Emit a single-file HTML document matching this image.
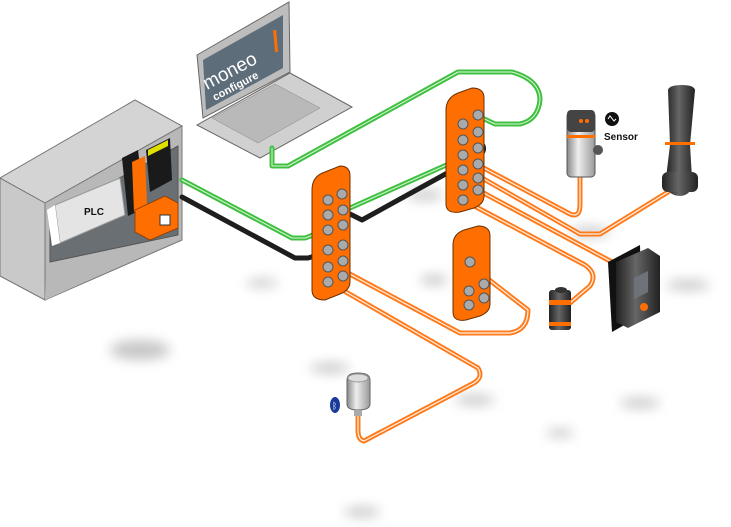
<!DOCTYPE html>
<html><head><meta charset="utf-8"><style>
html,body{margin:0;padding:0;background:#fff;width:731px;height:527px;overflow:hidden}
svg{display:block}
</style></head><body>
<svg width="731" height="527" viewBox="0 0 731 527" xmlns="http://www.w3.org/2000/svg">
<defs>
<filter id="b" x="-50%" y="-50%" width="200%" height="200%"><feGaussianBlur stdDeviation="6"/></filter>
<linearGradient id="cyl" x1="0" x2="1"><stop offset="0" stop-color="#888"/><stop offset=".4" stop-color="#eee"/><stop offset="1" stop-color="#999"/></linearGradient>
<linearGradient id="dk" x1="0" x2="1"><stop offset="0" stop-color="#222"/><stop offset=".45" stop-color="#666"/><stop offset="1" stop-color="#222"/></linearGradient>
</defs>
<g fill="#999" filter="url(#b)" opacity=".55">
<ellipse cx="140" cy="350" rx="30" ry="10"/>
<ellipse cx="262" cy="283" rx="16" ry="4"/>
<ellipse cx="330" cy="368" rx="20" ry="5"/>
<ellipse cx="475" cy="400" rx="20" ry="5"/>
<ellipse cx="590" cy="232" rx="20" ry="5"/>
<ellipse cx="688" cy="285" rx="22" ry="5"/>
<ellipse cx="640" cy="403" rx="20" ry="5"/>
<ellipse cx="560" cy="433" rx="14" ry="4"/>
<ellipse cx="362" cy="512" rx="18" ry="5"/>
<ellipse cx="425" cy="195" rx="18" ry="5"/>
<ellipse cx="434" cy="280" rx="14" ry="5"/>
</g>
<!-- PLC cabinet -->
<polygon points="0,178 135,100 182,126 45,203" fill="#d4d4d4" stroke="#777" stroke-width="1"/>
<polygon points="0,178 45,203 45,300 0,276" fill="#c9c9c9" stroke="#777"/>
<polygon points="45,203 182,126 182,240 45,300" fill="#b8b8b8" stroke="#777"/>
<polygon points="50,216 178,146 178,235 50,262" fill="#6a6f74" stroke="#555"/>
<polygon points="46,264 178,236 178,240 45,300" fill="#b8b8b8"/>
<polygon points="55,205 120,178 125,215 60,243" fill="#e4e4e4" stroke="#999"/>
<polygon points="47,210 55,205 60,243 52,246" fill="#fff"/>
<text x="84" y="215" font-family="Liberation Sans,sans-serif" font-weight="bold" font-size="10" fill="#111">PLC</text>
<polygon points="122,158 138,150 145,208 128,216" fill="#1a1a1a"/>
<polygon points="132,162 145,156 147,205 134,212" fill="#ff6e00"/>
<polygon points="146,150 170,138 172,180 150,192" fill="#1a1a1a"/>
<polygon points="148,150 168,140 168,146 148,156" fill="#dfe000"/>
<polygon points="135,210 165,196 178,203 178,228 150,240 135,232" fill="#ff6e00" stroke="#8a3a00" stroke-width=".8"/>
<rect x="160" y="215" width="10" height="10" fill="#fff" stroke="#333"/>
<!-- Laptop -->
<polygon points="197,125 260,158 352,107 290,73" fill="#d0d0d0" stroke="#666"/>
<polygon points="212,118 258,143 320,108 275,84" fill="#b9b9b9" stroke="#888" stroke-width=".5"/>
<polygon points="197,55 289,2 290,72 203,118" fill="#bdbdbd" stroke="#666"/>
<polygon points="203,60 283,15 283,68 206,110" fill="#5e6d7a"/>
<text transform="translate(207,90) rotate(-28)" font-family="Liberation Sans,sans-serif" font-size="19" fill="#fff">moneo</text>
<rect x="274" y="30" width="3" height="22" fill="#ff6e00" transform="rotate(-5 275 40)"/>
<text transform="translate(215,101) rotate(-28)" font-family="Liberation Sans,sans-serif" font-size="11" font-weight="bold" fill="#fff">configure</text>
<!-- cables -->
<g fill="none" stroke-linecap="round" stroke-linejoin="round">
<g stroke="#40c040" stroke-width="5">
<path d="M272,148 V166 H288 L458,72 H512 Q540,80 540,100 Q538,120 520,124 H495 L478,116"/>
<path d="M465,128 Q485,135 480,150 L350,208 H345 L330,196"/>
<path d="M182,180 L292,238 H305 Q325,232 332,215 L328,205"/>
</g>
<g stroke="#1e1e1e" stroke-width="5">
<path d="M182,197 L295,258 H308 Q330,252 338,237 L336,226"/>
<path d="M346,212 L362,220 L480,155 Q488,148 478,140"/>
</g>
<g stroke="#d9f5d9" stroke-width="1"><path d="M272,148 V166 H288 L458,72 H512 Q540,80 540,100 Q538,120 520,124 H495 L478,116"/><path d="M182,180 L292,238 H305 Q325,232 332,215"/><path d="M465,128 Q485,135 480,150 L350,208"/></g>
<g stroke="#ff7a1a" stroke-width="5">
<path d="M478,165 L570,214 Q580,218 580,205 V172"/>
<path d="M482,178 L580,234 H600 L668,192"/>
<path d="M478,190 L612,262"/>
<path d="M463,200 L585,265 Q598,274 590,286 L570,303"/>
<path d="M346,272 L460,333 H510 Q528,330 528,310 L470,265"/>
<path d="M332,284 L478,368 Q484,378 472,384 L364,441 Q358,440 358,430 V410"/>
</g>
<g stroke="#fff" stroke-width="1.2" opacity=".9">
<path d="M478,165 L570,214 Q580,218 580,205 V172"/>
<path d="M482,178 L580,234 H600 L668,192"/>
<path d="M478,190 L612,262"/>
<path d="M463,200 L585,265 Q598,274 590,286 L570,303"/>
<path d="M346,272 L460,333 H510 Q528,330 528,310 L470,265"/>
<path d="M332,284 L478,368 Q484,378 472,384 L364,441 Q358,440 358,430 V410"/>
</g>
</g>
<!-- hubs -->
<g stroke="#6b3000" stroke-width="1">
<path d="M312,190 Q312,176 325,172 L340,166 Q350,166 350,176 V282 Q350,290 340,294 L325,300 Q312,300 312,290 Z" fill="#ff6e00"/>
<path d="M446,110 Q446,98 458,93 L472,88 Q484,88 484,98 V196 Q484,204 474,208 L460,212 Q446,214 446,204 Z" fill="#ff6e00"/>
<path d="M453,245 Q453,234 464,230 L478,226 Q490,226 490,236 V304 Q490,312 480,316 L466,320 Q453,322 453,312 Z" fill="#ff6e00"/>
</g>
<g fill="#aaa" stroke="#555" stroke-width="1">
<circle cx="328" cy="200" r="5"/><circle cx="342" cy="194" r="5"/>
<circle cx="328" cy="215" r="5"/><circle cx="343" cy="210" r="5"/>
<circle cx="328" cy="230" r="5"/><circle cx="343" cy="225" r="5"/>
<circle cx="328" cy="250" r="5"/><circle cx="343" cy="245" r="5"/>
<circle cx="328" cy="267" r="5"/><circle cx="343" cy="261" r="5"/>
<circle cx="328" cy="282" r="5"/><circle cx="343" cy="276" r="5"/>
<circle cx="463" cy="124" r="5"/><circle cx="478" cy="115" r="5"/>
<circle cx="463" cy="140" r="5"/><circle cx="478" cy="132" r="5"/>
<circle cx="463" cy="155" r="5"/><circle cx="478" cy="148" r="5"/>
<circle cx="463" cy="170" r="5"/><circle cx="478" cy="164" r="5"/>
<circle cx="463" cy="185" r="5"/><circle cx="478" cy="178" r="5"/>
<circle cx="463" cy="200" r="5"/><circle cx="478" cy="190" r="5"/>
<circle cx="470" cy="262" r="5"/>
<circle cx="469" cy="291" r="5"/><circle cx="484" cy="284" r="5"/>
<circle cx="469" cy="305" r="5"/><circle cx="484" cy="298" r="5"/>
</g>
<!-- pressure sensor -->
<rect x="567" y="112" width="28" height="65" rx="4" fill="url(#cyl)" stroke="#555"/>
<rect x="567" y="110" width="28" height="22" rx="4" fill="#444"/>
<rect x="567" y="135" width="28" height="3" fill="#ff6e00"/>
<circle cx="598" cy="150" r="5" fill="#555"/>
<circle cx="581" cy="121" r="2" fill="#ff6e00"/><circle cx="587" cy="121" r="2" fill="#ff6e00"/>
<circle cx="612" cy="119" r="7" fill="#111"/>
<path d="M608,119 l2,-3 l4,5 l2,-2" stroke="#fff" fill="none" stroke-width="1"/>
<text x="604" y="140" font-family="Liberation Sans,sans-serif" font-weight="bold" font-size="10" fill="#111">Sensor</text>
<!-- signal light -->
<path d="M668,90 Q669,85 682,85 Q694,85 695,90 L690,145 L692,178 Q694,195 680,196 Q664,195 666,178 L670,145 Z" fill="url(#dk)"/>
<rect x="662" y="172" width="36" height="20" rx="6" fill="url(#dk)"/>
<rect x="665" y="142" width="30" height="3" fill="#ff6e00"/>
<!-- display -->
<polygon points="608,262 640,245 642,315 612,332" fill="#111"/>
<polygon points="616,262 648,248 660,256 660,312 628,328 616,322" fill="url(#dk)"/>
<polygon points="634,278 648,271 648,292 634,299" fill="#6d7378"/>
<circle cx="644" cy="307" r="4" fill="#ff6e00"/>
<!-- small cylinder -->
<rect x="549" y="290" width="22" height="40" rx="3" fill="url(#dk)"/>
<rect x="549" y="300" width="22" height="5" fill="#ff6e00"/><rect x="549" y="322" width="22" height="4" fill="#ff6e00"/>
<ellipse cx="561" cy="290" rx="6" ry="3" fill="#333"/>
<!-- capacitive sensor -->
<path d="M347,380 Q347,373 358,373 Q370,373 370,380 V404 Q370,410 358,410 Q347,410 347,404 Z" fill="url(#cyl)" stroke="#666"/>
<ellipse cx="358" cy="378" rx="10" ry="4" fill="#ddd" stroke="#999"/>
<rect x="354" y="410" width="8" height="6" fill="#aaa"/>
<ellipse cx="335" cy="405" rx="5" ry="8" fill="#1a3a9a"/>
<text x="332" y="409" font-family="DejaVu Sans,sans-serif" font-size="9" fill="#fff">ᛒ</text>
</svg>
</body></html>
